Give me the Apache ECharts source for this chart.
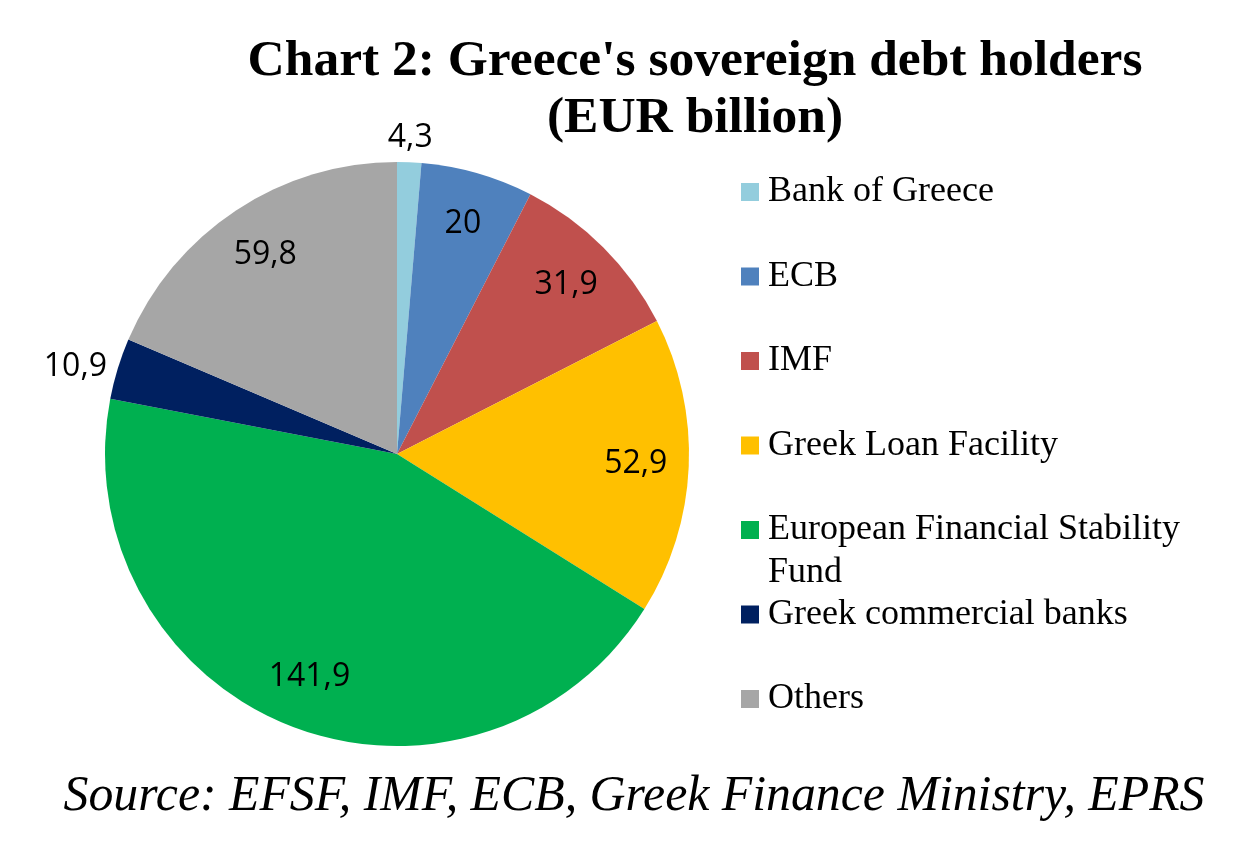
<!DOCTYPE html>
<html>
<head>
<meta charset="utf-8">
<title>Greece's sovereign debt holders</title>
<script src="https://cdn.jsdelivr.net/npm/echarts@6/dist/echarts.min.js"></script>
<style>
  html, body { margin: 0; padding: 0; background: #fff; }
  #main { width: 1235px; height: 845px; }
</style>
</head>
<body>
<div id="main"></div>
<script>
// data (EUR billion)
const categories = ['Bank of Greece', 'ECB', 'IMF', 'Greek Loan Facility',
  'European Financial Stability Fund', 'Greek commercial banks', 'Others'];
const values = [4.3, 20, 31.9, 52.9, 141.9, 10.9, 59.8];
const colors = ['#93CDDD', '#4F81BD', '#C0504D', '#FFC000', '#00B050', '#002060', '#A6A6A6'];
// where each value label sits: inside the slice, just outside the edge, or above the top
const labelPlace = ['far', 'inner', 'inner', 'inner', 'inner', 'edge', 'inner'];

const serif = 'Liberation Serif';
const labelFont = { fontFamily: 'Open Sans', fontSize: 32, color: '#000' };

function fmt(p) {
  return String(p.value).replace('.', ',');
}

// transparent pie that only carries labels of one placement
function labelPie(radius, place) {
  return {
    type: 'pie',
    center: [397, 454],
    radius: [0, radius],
    startAngle: 90,
    clockwise: true,
    silent: true,
    avoidLabelOverlap: false,
    emphasis: { disabled: true },
    itemStyle: { color: 'transparent', borderWidth: 0 },
    labelLine: { show: false },
    data: categories.map((n, i) => ({
      name: n,
      value: values[i],
      label: Object.assign({ show: labelPlace[i] === place, position: 'inside', formatter: fmt }, labelFont)
    }))
  };
}

const chart = echarts.init(document.getElementById('main'), null, { renderer: 'canvas' });

const option = {
  animation: false,
  backgroundColor: '#fff',
  legend: {
    orient: 'vertical',
    left: 736,
    top: 167,
    padding: 5,
    itemWidth: 18,
    itemHeight: 18,
    itemGap: 44.5,
    icon: 'rect',
    selectedMode: false,
    data: categories.map((n, i) => ({ name: n, itemStyle: { color: colors[i] } })),
    formatter: name => name === 'European Financial Stability Fund' ? 'European Financial Stability' : name,
    textStyle: { fontFamily: serif, fontSize: 36, lineHeight: 40, color: '#000', padding: [0, 0, 0, 4] }
  },
  graphic: [
    {
      type: 'text', x: 695, y: 90,
      style: {
        text: "Chart 2: Greece's sovereign debt holders\n(EUR billion)",
        fontFamily: serif, fontWeight: 'bold', fontSize: 51.5, lineHeight: 57,
        fill: '#000', align: 'center', verticalAlign: 'middle'
      }
    },
    {
      // second line of the wrapped legend entry
      type: 'text', x: 768, y: 573,
      style: {
        text: 'Fund', fontFamily: serif, fontSize: 36, fill: '#000',
        align: 'left', verticalAlign: 'middle'
      }
    },
    {
      type: 'text', x: 634, y: 797,
      style: {
        text: 'Source: EFSF, IMF, ECB, Greek Finance Ministry, EPRS',
        fontFamily: serif, fontStyle: 'italic', fontSize: 49.8,
        fill: '#000', align: 'center', verticalAlign: 'middle'
      }
    }
  ],
  series: [
    {
      name: 'Debt holders',
      type: 'pie',
      center: [397, 454],
      radius: 292,
      startAngle: 90,
      clockwise: true,
      silent: true,
      avoidLabelOverlap: false,
      emphasis: { disabled: true },
      labelLine: { show: false, length: 6, length2: 0 },
      data: categories.map((n, i) => ({
        name: n,
        value: values[i],
        itemStyle: { color: colors[i], borderWidth: 0 },
        label: Object.assign({ show: labelPlace[i] === 'edge', position: 'outside', formatter: fmt }, labelFont)
      }))
    },
    labelPie(472, 'inner'),
    labelPie(626, 'far')
  ]
};

chart.setOption(option);
</script>
</body>
</html>
